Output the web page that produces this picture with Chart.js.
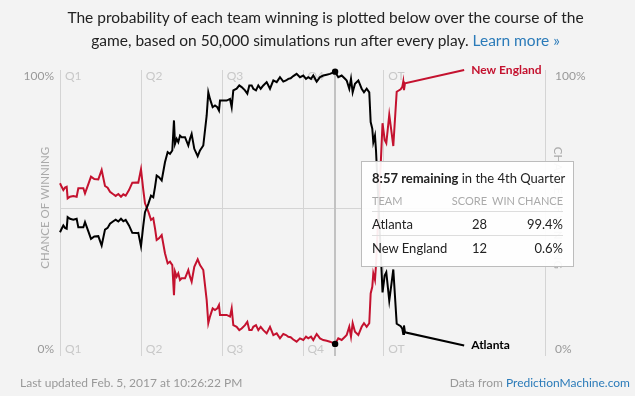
<!DOCTYPE html>
<html>
<head>
<meta charset="utf-8">
<script src="https://cdn.jsdelivr.net/npm/chart.js@4.4.1/dist/chart.umd.min.js"></script>
<style>
  html, body { margin: 0; padding: 0; background: #f3f3f3; }
  #wrap { position: relative; width: 635px; height: 396px; overflow: hidden; font-family: Lato, sans-serif; }
  #chart { position: absolute; left: 0; top: 0; }
  #intro { position: absolute; left: 8px; top: 6px; width: 635px; text-align: center; font-size: 15.5px; line-height: 23px; color: #222; }
  #intro a { color: #2b7bb9; text-decoration: none; }
  #updated { position: absolute; left: 20px; top: 375px; font-size: 12px; line-height: 16px; color: #999; }
  #source { position: absolute; right: 5px; top: 375px; font-size: 12px; line-height: 16px; color: #999; }
  #source a { color: #2b7bb9; text-decoration: none; }
  #tip { position: absolute; left: 361px; top: 161px; width: 191px; height: 104px; padding: 0 10px;
         box-sizing: content-box; background: rgba(255,255,255,0.92); border: 1px solid #bcbcbc; }
  #tip .when { margin-top: 7px; font-size: 13px; line-height: 18px; color: #222; white-space: nowrap; }
  #tip table { border-collapse: collapse; width: 191px; margin-top: 2px; table-layout: fixed; }
  #tip th { font-size: 11px; font-weight: normal; color: #aaa; height: 22px; padding: 0; text-align: right; border-bottom: 1px solid #ddd; white-space: nowrap; }
  #tip td { font-size: 13px; color: #222; height: 23px; padding: 0; text-align: right; white-space: nowrap; }
  #tip tr.first td { border-bottom: 1px solid #ddd; }
  #tip .team { text-align: left; }
</style>
</head>
<body>
<div id="wrap">
  <canvas id="chart" width="635" height="396"></canvas>
  <div id="intro">The probability of each team winning is plotted below over the course of the<br>game, based on 50,000 simulations run after every play. <a href="#">Learn more »</a></div>
  <div id="tip"></div>
  <div id="updated">Last updated Feb. 5, 2017 at 10:26:22 PM</div>
  <div id="source">Data from <a href="#">PredictionMachine.com</a></div>
</div>
<script>
  // game clock in minutes (OT plotted after minute 60), win chance in percent
  const minutes = [0, 0.31, 0.62, 0.93, 1.24, 1.42, 1.86, 2.47, 3.09, 3.40,
    4.33, 4.64, 5.26, 5.75, 6.37, 7.11, 7.73, 8.35, 8.84, 9.28,
    9.89, 10.33, 10.83, 11.32, 11.75, 12.19, 12.80, 13.42, 14.23, 14.53,
    15.03, 15.46, 15.77, 16.39, 16.89, 17.31, 17.63, 17.94, 18.37, 18.87,
    19.48, 19.98, 20.41, 20.84, 21.15, 21.34, 21.65, 21.95, 22.27, 22.58,
    23.20, 23.81, 24.12, 24.43, 24.92, 25.55, 25.98, 26.59, 27.22, 27.52,
    27.83, 28.33, 28.76, 29.19, 29.50, 29.69, 30.31, 30.93, 31.55, 31.86,
    32.16, 32.78, 33.27, 33.71, 34.33, 34.76, 35.13, 35.57, 35.87, 36.37,
    36.80, 37.24, 37.73, 38.35, 38.97, 39.59, 40.21, 40.82, 41.44, 41.94,
    42.37, 42.80, 43.29, 43.91, 44.53, 45.15, 45.65, 46.07, 46.58, 47.00,
    47.63, 48.25, 48.86, 49.49, 50.10, 51.05, 51.64, 52.27, 52.89, 53.20,
    53.68, 54.00, 54.31, 54.74, 55.36, 55.98, 56.41, 56.91, 57.39, 57.65,
    57.95, 58.14, 58.45, 58.64, 59.55, 59.85, 60.25, 60.55, 61.10, 61.55,
    61.85, 62.48, 63.22, 63.52, 63.70, 63.83, 64.02, 75];

  const patriots = [58.9, 57.6, 56.4, 57.3, 57.6, 53.4, 54.0, 54.3, 54.0, 57.1,
    57.1, 55.2, 58.6, 61.3, 60.4, 60.3, 63.7, 57.9, 57.3, 55.8,
    54.9, 54.3, 55.0, 54.0, 54.9, 54.4, 56.4, 59.1, 59.2, 59.1,
    64.0, 56.4, 51.6, 48.6, 45.6, 46.2, 42.5, 38.3, 38.9, 40.1,
    33.5, 29.8, 30.4, 29.2, 18.3, 26.8, 25.0, 26.2, 23.8, 24.4,
    24.4, 27.4, 25.0, 23.2, 28.6, 31.3, 29.2, 27.4, 16.5, 8.1,
    10.5, 13.5, 12.9, 13.5, 14.7, 11.1, 11.1, 11.1, 10.5, 13.5,
    7.4, 6.8, 5.6, 6.2, 7.4, 8.6, 5.6, 5.6, 6.8, 7.4,
    5.6, 6.8, 5.6, 4.4, 6.8, 3.8, 4.4, 2.6, 4.2, 3.8,
    3.2, 3.0, 2.2, 1.4, 2.6, 2.0, 3.2, 2.6, 3.2, 2.0,
    4.2, 2.6, 2.0, 1.7, 1.4, 0.6, 2.6, 2.0, 3.2, 3.8,
    6.8, 3.2, 8.1, 5.0, 3.8, 6.8, 8.1, 6.8, 8.1, 18.9,
    21.3, 26.2, 23.8, 29.2, 67.3, 80.7, 74.6, 73.4, 83.7, 77.0,
    72.4, 92.1, 93.0, 93.9, 95.8, 92.7, 95.2, 100];

  const falcons = [41.1, 42.4, 43.6, 42.7, 42.4, 46.6, 46.0, 45.7, 46.0, 42.9,
    42.9, 44.8, 41.4, 38.7, 39.6, 39.7, 36.3, 42.1, 42.7, 44.2,
    45.1, 45.7, 45.0, 46.0, 45.1, 45.6, 43.6, 40.9, 40.8, 40.9,
    36.0, 43.6, 48.4, 51.4, 54.4, 53.8, 57.5, 61.7, 61.1, 59.9,
    66.5, 70.2, 69.6, 70.8, 81.7, 73.2, 75.0, 73.8, 76.2, 75.6,
    75.6, 72.6, 75.0, 76.8, 71.4, 68.7, 70.8, 72.6, 83.5, 91.9,
    89.5, 86.5, 87.1, 86.5, 85.3, 88.9, 88.9, 88.9, 89.5, 86.5,
    92.6, 93.2, 94.4, 93.8, 92.6, 91.4, 94.4, 94.4, 93.2, 92.6,
    94.4, 93.2, 94.4, 95.6, 93.2, 96.2, 95.6, 97.4, 95.8, 96.2,
    96.8, 97.0, 97.8, 98.6, 97.4, 98.0, 96.8, 97.4, 96.8, 98.0,
    95.8, 97.4, 98.0, 98.3, 98.6, 99.4, 97.4, 98.0, 96.8, 96.2,
    93.2, 96.8, 91.9, 95.0, 96.2, 93.2, 91.9, 93.2, 91.9, 81.1,
    78.7, 73.8, 76.2, 70.8, 32.7, 19.3, 25.4, 26.6, 16.3, 23.0,
    27.6, 7.9, 7.0, 6.1, 4.2, 7.3, 4.8, 0];

  const periodLabels = ['Q1', 'Q2', 'Q3', 'Q4', 'OT'];
  const periodStarts = [0, 15, 30, 45, 60];
  const yTickValues = [0, 100];
  const yTickLabels = ['0%', '100%'];
  const teams = ['Atlanta', 'New England'];
  const scores = [28, 12];
  const hoverMinute = 51.05;
  const hoverClock = '8:57 remaining';
  const hoverPeriod = 'in the 4th Quarter';

  const RED = '#c4122f';
  const GRID = '#d4d4d4';
  const FONT = 'Lato, sans-serif';

  const hoverIdx = minutes.indexOf(hoverMinute);
  const lastIdx = minutes.length - 1;

  // gridlines, quarter labels, axis text
  const framePlugin = {
    id: 'frame',
    beforeDatasetsDraw(chart) {
      const { ctx, chartArea: a, scales: { x, y } } = chart;
      ctx.save();
      ctx.lineWidth = 1;
      ctx.strokeStyle = GRID;
      const vline = px => {
        px = Math.round(px) + 0.5;
        ctx.beginPath(); ctx.moveTo(px, a.top); ctx.lineTo(px, a.bottom); ctx.stroke();
      };
      const mid = Math.round(y.getPixelForValue(50)) + 0.5;
      ctx.beginPath(); ctx.moveTo(a.left, mid); ctx.lineTo(x.getPixelForValue(90), mid); ctx.stroke();
      periodStarts.forEach(m => vline(x.getPixelForValue(m)));
      vline(x.getPixelForValue(90));

      // hovered play marker
      ctx.strokeStyle = '#c2c2c2';
      ctx.lineWidth = 2;
      const hx = Math.round(x.getPixelForValue(hoverMinute));
      ctx.beginPath(); ctx.moveTo(hx, a.top); ctx.lineTo(hx, a.bottom); ctx.stroke();

      ctx.font = '12px ' + FONT;
      ctx.textBaseline = 'middle';
      ctx.fillStyle = '#c8c8c8';
      ctx.textAlign = 'left';
      periodStarts.forEach((m, i) => {
        const px = x.getPixelForValue(m) + 5;
        ctx.fillText(periodLabels[i], px, a.top + 6);
        ctx.fillText(periodLabels[i], px, a.bottom - 7);
      });

      ctx.fillStyle = '#999';
      yTickValues.forEach((v, i) => {
        const py = v === 100 ? a.top + 6 : a.bottom - 7;
        ctx.textAlign = 'right';
        ctx.fillText(yTickLabels[i], a.left - 6, py);
        ctx.textAlign = 'left';
        ctx.fillText(yTickLabels[i], x.getPixelForValue(90) + 10, py);
      });

      ctx.fillStyle = '#aaa';
      ctx.font = '11.5px ' + FONT;
      ctx.textAlign = 'center';
      const cy = y.getPixelForValue(50);
      ctx.save();
      ctx.translate(45, cy);
      ctx.rotate(-Math.PI / 2);
      ctx.fillText('CHANCE OF WINNING', 0, 0);
      ctx.restore();
      ctx.save();
      ctx.translate(x.getPixelForValue(90) + 13, cy);
      ctx.rotate(Math.PI / 2);
      ctx.fillText('CHANCE OF WINNING', 0, 0);
      ctx.restore();
      ctx.restore();
    },
    afterDatasetsDraw(chart) {
      const { ctx, scales: { x, y } } = chart;
      ctx.save();
      ctx.fillStyle = '#000';
      [patriots, falcons].forEach(s => {
        ctx.beginPath();
        ctx.arc(x.getPixelForValue(minutes[hoverIdx]), y.getPixelForValue(s[hoverIdx]), 3.2, 0, Math.PI * 2);
        ctx.fill();
      });
      ctx.font = 'bold 12px ' + FONT;
      ctx.textBaseline = 'middle';
      ctx.textAlign = 'left';
      const ex = x.getPixelForValue(minutes[lastIdx]) + 7;
      ctx.fillStyle = RED;
      ctx.fillText('New England', ex, y.getPixelForValue(patriots[lastIdx]));
      ctx.fillStyle = '#000';
      ctx.fillText('Atlanta', ex, y.getPixelForValue(falcons[lastIdx]));
      ctx.restore();
    }
  };

  const toPoints = s => minutes.map((m, i) => ({ x: m, y: s[i] }));

  new Chart(document.getElementById('chart').getContext('2d'), {
    type: 'line',
    data: {
      datasets: [
        { label: 'Atlanta', data: toPoints(falcons), borderColor: '#000', borderWidth: 2, pointRadius: 0, tension: 0, clip: false },
        { label: 'New England', data: toPoints(patriots), borderColor: RED, borderWidth: 2, pointRadius: 0, tension: 0, clip: false }
      ]
    },
    options: {
      responsive: false,
      animation: false,
      layout: { padding: { left: 60, right: 90, top: 70, bottom: 40 }, autoPadding: false },
      plugins: { legend: { display: false }, tooltip: { enabled: false } },
      scales: {
        x: { type: 'linear', min: 0, max: 90, display: false },
        y: { min: -3.8, max: 100, display: false }
      }
    },
    plugins: [framePlugin]
  });

  // hover box
  const chances = [falcons[hoverIdx], patriots[hoverIdx]];
  let rows = '';
  teams.forEach((t, i) => {
    rows += '<tr' + (i === 0 ? ' class="first"' : '') + '><td class="team">' + t + '</td><td>' + scores[i] +
      '</td><td>' + chances[i].toFixed(1) + '%</td></tr>';
  });
  document.getElementById('tip').innerHTML =
    '<div class="when"><b>' + hoverClock + '</b> ' + hoverPeriod + '</div>' +
    '<table><colgroup><col style="width:72px"><col style="width:43px"><col style="width:76px"></colgroup>' +
    '<tr><th class="team">TEAM</th><th>SCORE</th><th>WIN CHANCE</th></tr>' +
    rows + '</table>';
</script>
</body>
</html>
